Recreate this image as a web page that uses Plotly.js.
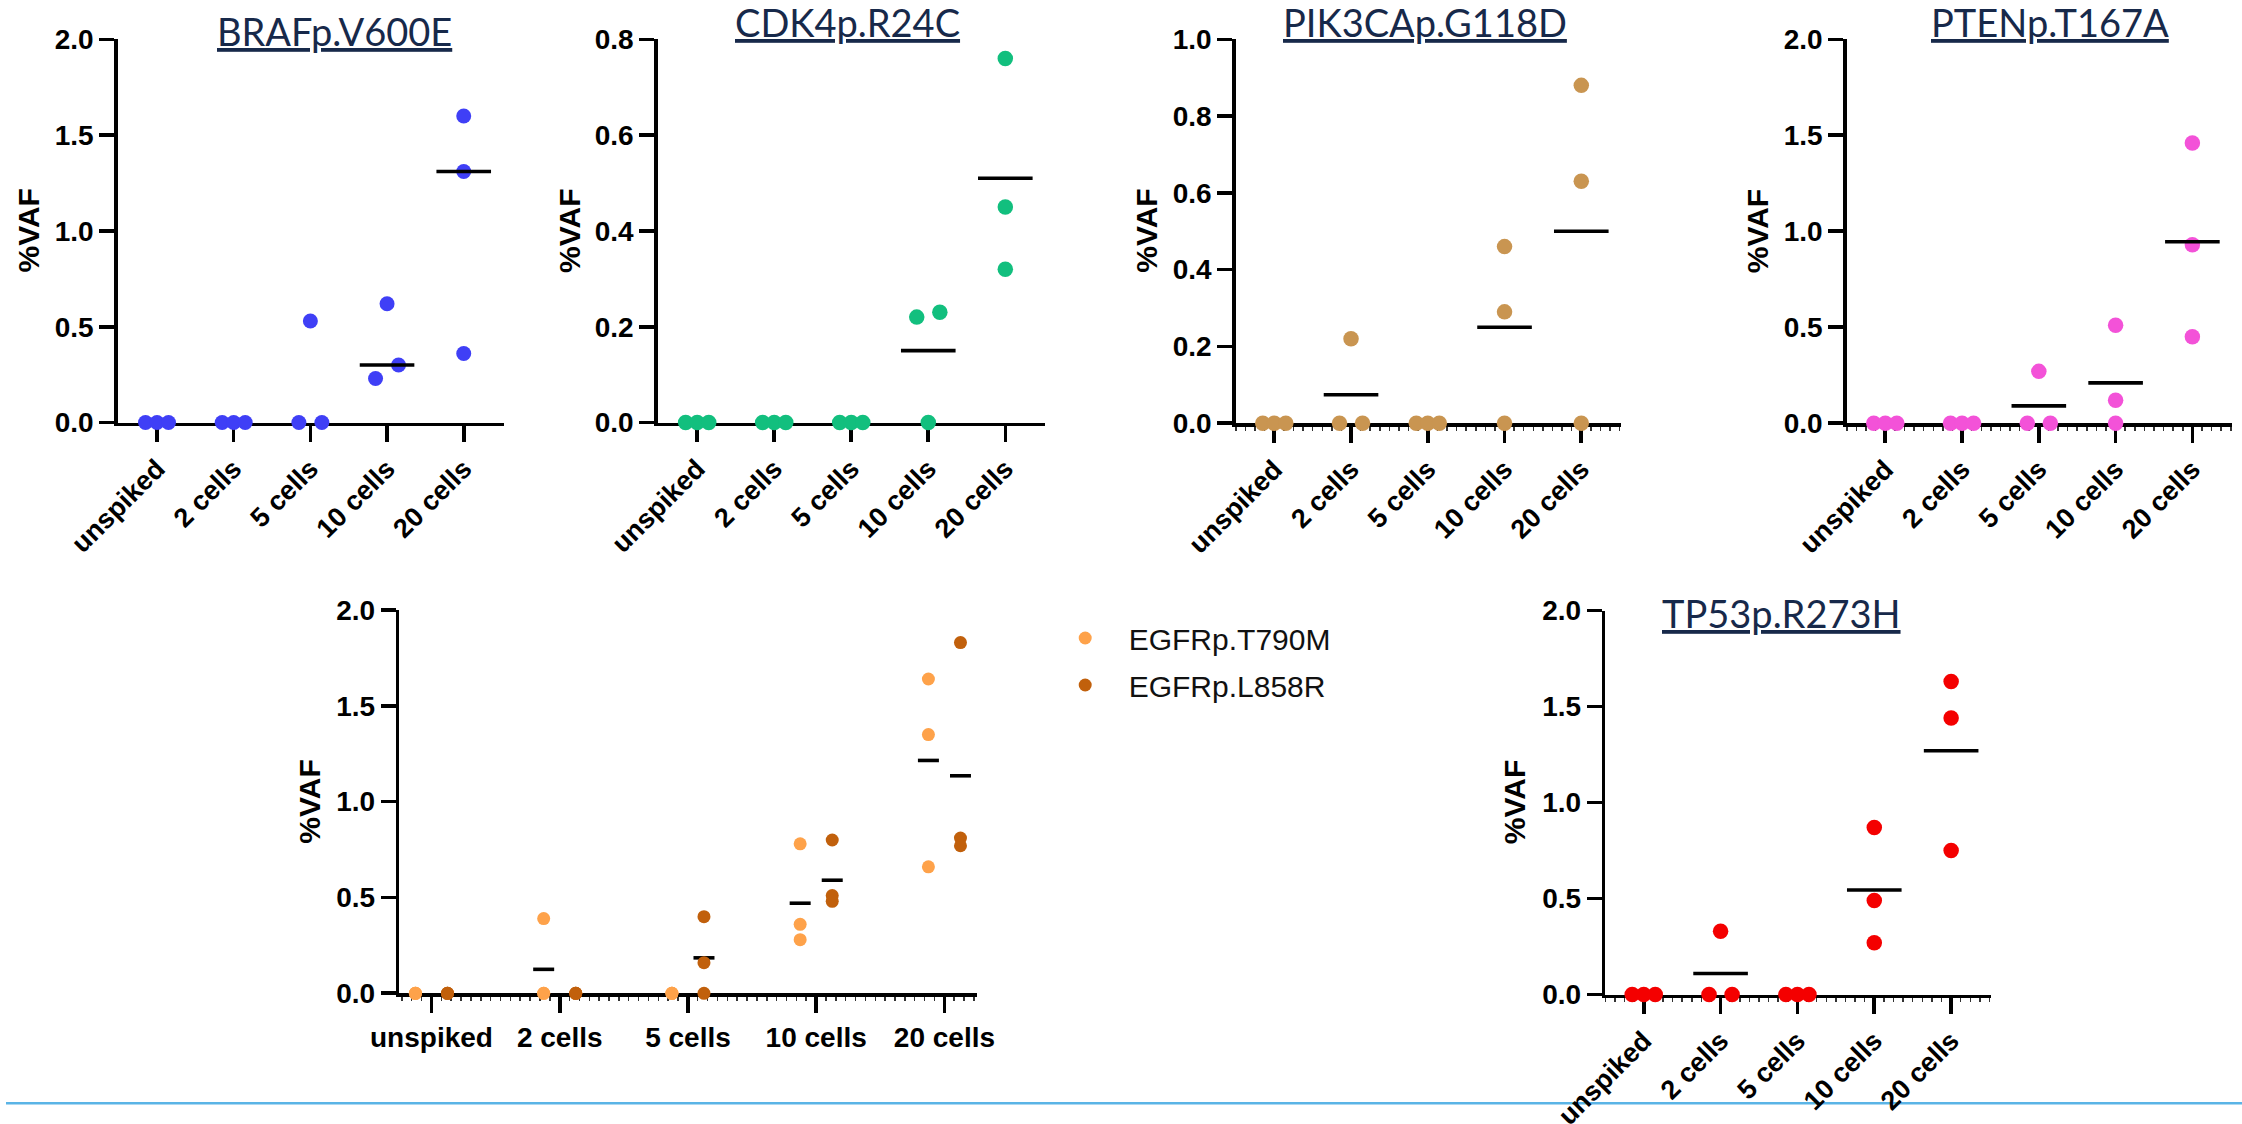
<!DOCTYPE html>
<html><head><meta charset="utf-8">
<script src="https://cdn.plot.ly/plotly-3.0.1.min.js"></script>
<style>html,body{margin:0;padding:0;background:#fff;}#chart{width:2242px;height:1124px;}</style>
</head><body><div id="chart"></div>
<script>
// ---------------- DATA ----------------
const categories = ['unspiked', '2 cells', '5 cells', '10 cells', '20 cells'];

const brafValues   = [[0, 0, 0], [0, 0, 0], [0.53, 0, 0], [0.62, 0.30, 0.23], [1.60, 1.31, 0.36]];
const brafLine     = [0, 0, 0, 0.30, 1.31];

const cdk4Values   = [[0, 0, 0], [0, 0, 0], [0, 0, 0], [0.22, 0.23, 0], [0.76, 0.45, 0.32]];
const cdk4Line     = [0, 0, 0, 0.15, 0.51];

const pik3caValues = [[0, 0, 0], [0.22, 0, 0], [0, 0, 0], [0.46, 0.29, 0], [0.88, 0.63, 0]];
const pik3caLine   = [0, 0.074, 0, 0.25, 0.50];

const ptenValues   = [[0, 0, 0], [0, 0, 0], [0.27, 0, 0], [0.51, 0.12, 0], [1.46, 0.93, 0.45]];
const ptenLine     = [0, 0, 0.09, 0.21, 0.945];

const t790mValues  = [[0, 0, 0], [0.39, 0, 0], [0, 0, 0], [0.78, 0.36, 0.28], [1.64, 1.35, 0.66]];
const t790mLine    = [0, 0.125, 0, 0.47, 1.215];
const l858rValues  = [[0, 0, 0], [0, 0, 0], [0.40, 0.16, 0], [0.80, 0.51, 0.48], [1.83, 0.81, 0.77]];
const l858rLine    = [0, 0, 0.185, 0.59, 1.135];

const tp53Values   = [[0, 0, 0], [0.33, 0, 0], [0, 0, 0], [0.87, 0.49, 0.27], [1.63, 1.44, 0.75]];
const tp53Line     = [0, 0.11, 0, 0.545, 1.27];

const yTitle = '%VAF';
// ---------------- LAYOUT / STYLE ----------------
const W = 2242, H = 1124;
const BOLD = 'Liberation Sans, Arial, Helvetica, sans-serif';
const TITLEFONT = 'Lato, Open Sans, sans-serif';
const TITLECOLOR = '#17294a';

const panels = [
  {name: 'BRAFp.V600E', series: [{name: 'BRAFp.V600E', values: brafValues, line: brafLine, color: '#3f3ff6'}],
   px: [117.9, 503.6], py: [39.3, 422.5], xr: [-0.51, 4.52], ymax: 2, dtick: 0.5,
   title: [334.5, 31.3], ytx: 28.6, rot: true, mk: 15, lineLen: 39, minor: 0},
  {name: 'CDK4p.R24C', series: [{name: 'CDK4p.R24C', values: cdk4Values, line: cdk4Line, color: '#12bf7e'}],
   px: [657.9, 1044.6], py: [39.3, 422.5], xr: [-0.51, 4.51], ymax: 0.8, dtick: 0.2,
   title: [847.9, 22.3], ytx: 570, rot: true, mk: 15.5, lineLen: 39, minor: 0},
  {name: 'PIK3CAp.G118D', series: [{name: 'PIK3CAp.G118D', values: pik3caValues, line: pik3caLine, color: '#c99551'}],
   px: [1235.9, 1621.2], py: [39.3, 423.2], xr: [-0.5, 4.52], ymax: 1, dtick: 0.2,
   title: [1424.6, 22.3], ytx: 1146.5, rot: true, mk: 15.5, lineLen: 39, minor: 0.125},
  {name: 'PTENp.T167A', series: [{name: 'PTENp.T167A', values: ptenValues, line: ptenLine, color: '#f352d8'}],
   px: [1846.9, 2232.3], py: [39.3, 423.2], xr: [-0.5, 4.52], ymax: 2, dtick: 0.5,
   title: [2049.9, 22.3], ytx: 1757, rot: true, mk: 15.5, lineLen: 39, minor: 0.125},
  {name: null, series: [
     {name: 'EGFRp.T790M', values: t790mValues, line: t790mLine, color: '#fea24a', shift: -0.125},
     {name: 'EGFRp.L858R', values: l858rValues, line: l858rLine, color: '#c1600c', shift: 0.125}],
   px: [399.4, 976.5], py: [610, 993.3], xr: [-0.25, 4.25], ymax: 2, dtick: 0.5,
   title: null, ytx: 310, rot: false, mk: 13, lineLen: 15, linesBelow: true, minor: 0.0769},
  {name: 'TP53p.R273H', series: [{name: 'TP53p.R273H', values: tp53Values, line: tp53Line, color: '#f40000'}],
   px: [1605.3, 1991.1], py: [610.5, 994.6], xr: [-0.5, 4.52], ymax: 2, dtick: 0.5,
   title: [1781.2, 613], ytx: 1514.6, rot: true, mk: 15.5, lineLen: 39, minor: 0.125}
];

// spread points of a column that would overlap (values closer than thr)
function jitter(vals, thr, step) {
  const idx = vals.map((v, i) => i).sort((a, b) => vals[a] - vals[b]);
  const off = vals.map(() => 0);
  const flush = c => {
    if (c.length === 2) { off[c[0]] = -step; off[c[1]] = step; }
    else c.forEach((k, j) => { off[k] = (j - (c.length - 1) / 2) * step; });
  };
  let cl = [idx[0]];
  for (let j = 1; j < idx.length; j++) {
    if (vals[idx[j]] - vals[idx[j - 1]] < thr) cl.push(idx[j]);
    else { flush(cl); cl = [idx[j]]; }
  }
  flush(cl);
  return off;
}

const traces = [];
const layout = {
  width: W, height: H, margin: {l: 0, r: 0, t: 0, b: 0},
  paper_bgcolor: '#fff', plot_bgcolor: 'rgba(0,0,0,0)',
  showlegend: true,
  legend: {x: 1041.7 / W, y: 1 - 612 / H, xanchor: 'left', yanchor: 'top',
           font: {family: 'Liberation Sans, Arial, sans-serif', size: 30, color: '#111'},
           itemwidth: 77, tracegroupgap: 5, bgcolor: 'rgba(0,0,0,0)'},
  annotations: [],
  shapes: [{type: 'line', xref: 'paper', yref: 'paper', x0: 6 / W, x1: 1, y0: 1 - 1103.3 / H, y1: 1 - 1103.3 / H,
            line: {color: '#5ab4e6', width: 2.5}, layer: 'below'}]
};

panels.forEach((p, n) => {
  const sfx = n === 0 ? '' : String(n + 1);
  const xa = 'x' + sfx, ya = 'y' + sfx;
  const yf = {family: BOLD, size: 28, color: '#000', weight: 'bold'};
  const xf = {family: BOLD, size: p.rot ? 27 : 28, color: '#000', weight: 'bold'};
  const xaxis = {
    domain: [p.px[0] / W, p.px[1] / W], range: p.xr, anchor: ya,
    tickmode: 'array', tickvals: categories.map((c, i) => i), ticktext: categories,
    tickangle: p.rot ? -45 : 0, ticks: 'outside', ticklen: 16, tickwidth: 3.6, tickcolor: '#000',
    showline: true, linewidth: 3.6, linecolor: '#000', showgrid: false, zeroline: false,
    layer: 'below traces', fixedrange: true, tickfont: xf
  };
  if (p.minor) xaxis.minor = {tickmode: 'linear', tick0: 0, dtick: p.minor, ticks: 'outside', ticklen: 4, tickwidth: 1.5, tickcolor: '#333', showgrid: false};
  layout['xaxis' + sfx] = xaxis;
  layout['yaxis' + sfx] = {
    domain: [1 - p.py[1] / H, 1 - p.py[0] / H], range: [0, p.ymax], anchor: xa,
    tick0: 0, dtick: p.dtick, tickformat: '.1f', ticks: 'outside', ticklen: 15, tickwidth: 3.6, tickcolor: '#000',
    showline: true, linewidth: 3.6, linecolor: '#000', showgrid: false, zeroline: false,
    layer: 'below traces', fixedrange: true, tickfont: yf
  };
  const thr = 0.045 * p.ymax;
  const dotTraces = [], lineTraces = [];
  p.series.forEach((s) => {
    const xs = [], ys = [];
    s.values.forEach((col, ci) => {
      const off = p.series.length > 1 ? col.map(() => 0) : jitter(col, thr, 0.15);
      col.forEach((v, k) => { xs.push(ci + (s.shift || 0) + off[k]); ys.push(v); });
    });
    dotTraces.push({
      type: 'scatter', mode: 'markers', x: xs, y: ys, xaxis: xa, yaxis: ya, cliponaxis: false,
      name: s.name, showlegend: p.series.length > 1, legendgroup: s.name,
      marker: {color: s.color, size: p.mk, line: {width: 0}}, hoverinfo: 'y'
    });
    lineTraces.push({
      type: 'scatter', mode: 'markers', xaxis: xa, yaxis: ya, cliponaxis: false, showlegend: false,
      x: categories.map((c, i) => i + (s.shift || 0)),
      y: s.line.map(v => (v > 0 ? v : null)),
      marker: {symbol: 'line-ew', size: p.lineLen, color: '#000', line: {color: '#000', width: 3.6}},
      hoverinfo: 'y'
    });
  });
  if (p.linesBelow) traces.push(...lineTraces, ...dotTraces); else traces.push(...dotTraces, ...lineTraces);

  if (p.title) {
    layout.annotations.push({
      xref: 'paper', yref: 'paper', x: p.title[0] / W, y: 1 - p.title[1] / H, xanchor: 'center', yanchor: 'middle',
      text: '<u>' + p.name + '</u>', showarrow: false,
      font: {family: TITLEFONT, size: 38, color: TITLECOLOR}
    });
  }
  layout.annotations.push({
    xref: 'paper', yref: 'paper', x: p.ytx / W, y: 1 - ((p.py[0] + p.py[1]) / 2) / H,
    xanchor: 'center', yanchor: 'middle', textangle: -90, showarrow: false,
    text: yTitle, font: {family: BOLD, size: 30, color: '#000', weight: 'bold'}
  });
});

Plotly.newPlot('chart', traces, layout, {displayModeBar: false, staticPlot: true});
</script></body></html>
